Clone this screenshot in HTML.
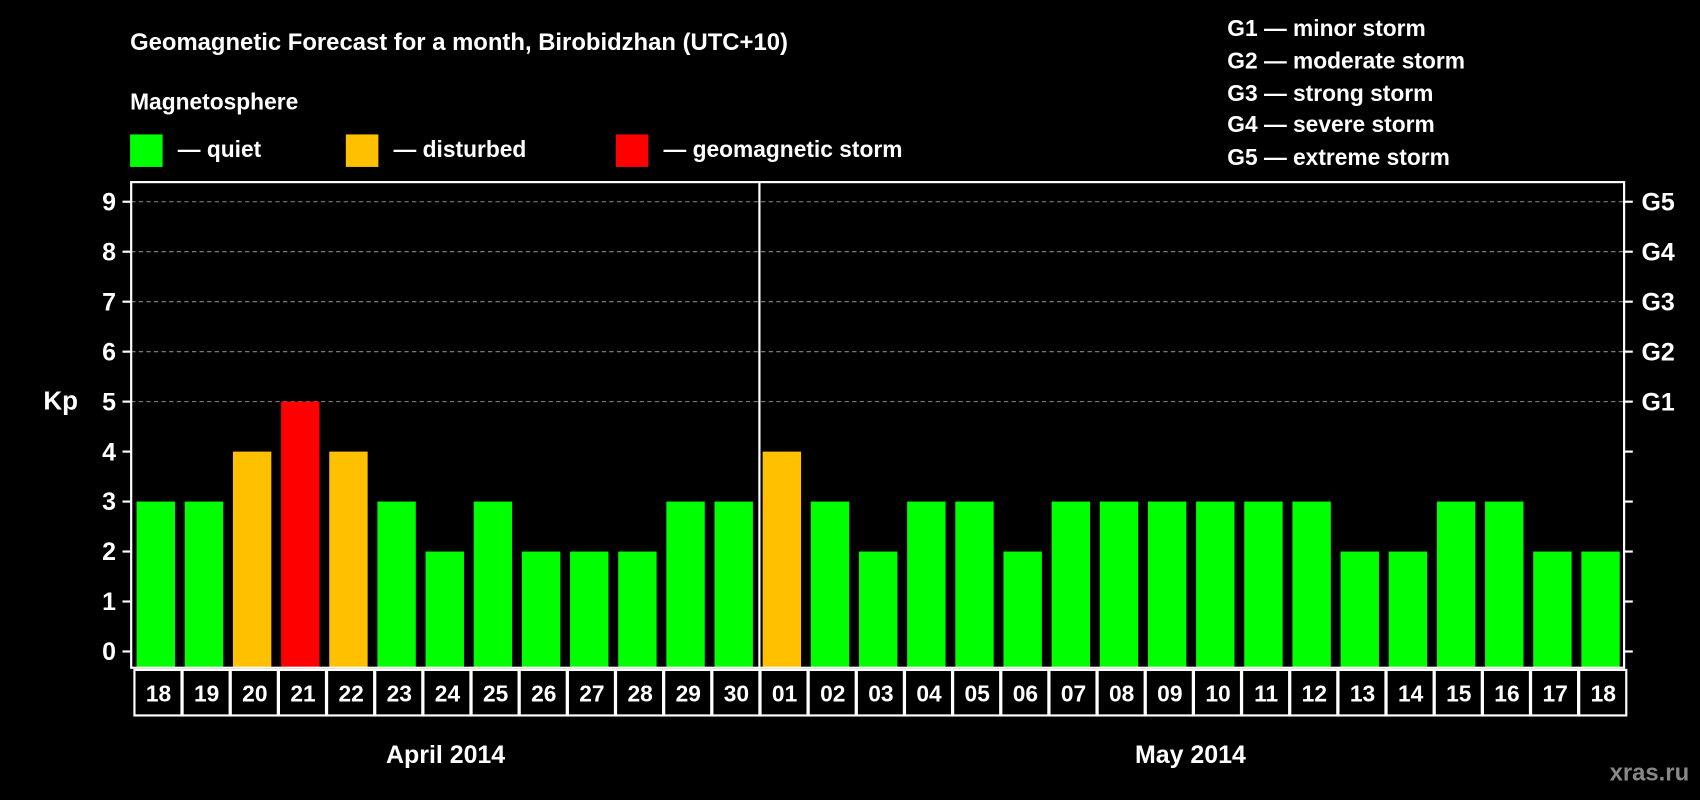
<!DOCTYPE html>
<html><head><meta charset="utf-8"><style>
html,body{margin:0;padding:0;background:#000;}
svg{display:block;font-family:"Liberation Sans",sans-serif;font-weight:bold;}
</style></head><body>
<svg id="chart" width="1700" height="800" viewBox="0 0 1568 738" preserveAspectRatio="none" xmlns="http://www.w3.org/2000/svg">
<rect width="1568" height="738" fill="#000"/>
<text x="120" y="46" fill="#fff" font-size="22">Geomagnetic Forecast for a month, Birobidzhan (UTC+10)</text>
<text x="120" y="101" fill="#fff" font-size="21">Magnetosphere</text>
<g><rect x="120" y="124" width="30" height="30" fill="#00ff00"/><text x="164" y="145" fill="#fff" font-size="21">— quiet</text></g>
<g><rect x="319" y="124" width="30" height="30" fill="#ffc000"/><text x="363" y="145" fill="#fff" font-size="21">— disturbed</text></g>
<g><rect x="568" y="124" width="30" height="30" fill="#ff0000"/><text x="612" y="145" fill="#fff" font-size="21">— geomagnetic storm</text></g>
<g fill="#fff" font-size="21">
<text x="1132" y="33">G1 — minor storm</text>
<text x="1132" y="63">G2 — moderate storm</text>
<text x="1132" y="93">G3 — strong storm</text>
<text x="1132" y="122">G4 — severe storm</text>
<text x="1132" y="152">G5 — extreme storm</text>
</g>
<text x="40" y="378" fill="#fff" font-size="24">Kp</text>
<text x="411" y="704" fill="#fff" font-size="23" text-anchor="middle">April 2014</text>
<text x="1098" y="704" fill="#fff" font-size="23" text-anchor="middle">May 2014</text>
<text x="1558" y="720" fill="#888" font-size="22" text-anchor="end">xras.ru</text>
<g id="plot"></g>
</svg>
<script>
const days = ["18","19","20","21","22","23","24","25","26","27","28","29","30","01","02","03","04","05","06","07","08","09","10","11","12","13","14","15","16","17","18"];
const kp = [3,3,4,5,4,3,2,3,2,2,2,3,3,4,3,2,3,3,2,3,3,3,3,3,3,2,2,3,3,2,2];
const yTicks = [0,1,2,3,4,5,6,7,8,9];
const gLabels = ["","","","","","G1","G2","G3","G4","G5"];
const monthBreak = 13;
const NS="http://www.w3.org/2000/svg";
const g=document.getElementById('plot');
const L=121,R=1498,T=168,B=616;
const step=(R-L)/days.length;
const yS=v=>601-v*46.1;
const xS=i=>L+i*step;
function mk(t,a){const e=document.createElementNS(NS,t);for(const k in a)e.setAttribute(k,a[k]);g.appendChild(e);return e;}
yTicks.forEach((v,i)=>{
  if(v>=5){const gl=mk('line',{x1:L,x2:R,y1:yS(v),y2:yS(v),stroke:'#888','stroke-dasharray':'4,3','stroke-width':1});
  
  }
  mk('line',{x1:L-8,x2:L,y1:yS(v),y2:yS(v),stroke:'#fff','stroke-width':2});
  mk('line',{x1:R,x2:R+8,y1:yS(v),y2:yS(v),stroke:'#fff','stroke-width':2});
  const t=mk('text',{x:L-14,y:yS(v)+8,fill:'#fff','font-size':23,'text-anchor':'end'});t.textContent=v;
  
  
  if(gLabels[i]){const gt=mk('text',{x:R+16,y:yS(v)+8,fill:'#fff','font-size':23});gt.textContent=gLabels[i];
  
  }
});
kp.forEach((v,i)=>{
  const c=v>=5?'#ff0000':(v>=4?'#ffc000':'#00ff00');
  const b=mk('rect',{x:xS(i)+5,y:yS(v),width:step-9,height:B-yS(v),fill:c});
  
  
  const cell=mk('rect',{x:xS(i)+3,y:B+2,width:step-1,height:42,fill:'none',stroke:'#fff','stroke-width':2});
  
  
  const t=mk('text',{x:xS(i)+3+step/2,y:B+31,fill:'#fff','font-size':21,'text-anchor':'middle'});t.textContent=days[i];
  
  
});
const f=mk('rect',{x:L,y:T,width:R-L,height:B-T,fill:'none',stroke:'#fff','stroke-width':2});


const d=mk('line',{x1:xS(monthBreak)+2,x2:xS(monthBreak)+2,y1:T,y2:B,stroke:'#fff','stroke-width':2});


</script>
</body></html>
